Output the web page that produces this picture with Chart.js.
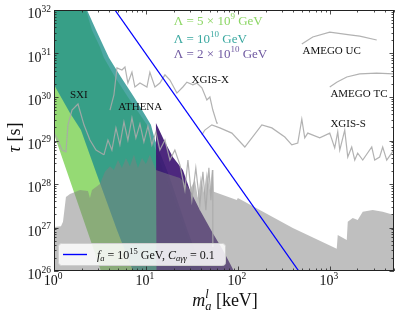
<!DOCTYPE html>
<html><head><meta charset="utf-8">
<script src="https://cdn.jsdelivr.net/npm/chart.js@4"></script>
<style>html,body{margin:0;padding:0;background:#fff}#c{display:block}</style>
</head><body>
<canvas id="c" width="399" height="317"></canvas>
<script>
// ---- data (log10 m [keV], log10 tau [s]) ----
const greenLogM   = [0, 0.348, 0.413, 0.5, 0.543, 0.663, 0.804, 0.924, 1.011, 1.065, 1.207, 1.424, 1.587, 0.511, 0.359, 0];
const greenLogTau = [32, 32, 31.54, 31.15, 30.90, 30.46, 30.0, 29.63, 29.36, 29.01, 28.21, 26.94, 26.0, 26.0, 26.94, 29.15];

const tealLogM   = [0, 0.359, 0.457, 0.543, 0.598, 0.728, 0.870, 0.978, 1.054, 1.098, 1.25, 1.45, 1.62, 0.859, 0.685, 0.467, 0.293, 0.174, 0];
const tealLogTau = [32, 32, 31.54, 31.15, 30.90, 30.46, 30.0, 29.63, 29.36, 29.01, 28.2, 26.94, 26.0, 26.0, 26.94, 28.21, 29.24, 29.63, 30.28];

const purpleLogM   = [1.109, 1.196, 1.293, 1.402, 1.478, 1.587, 1.728, 1.837, 1.913, 1.957, 1.115];
const purpleLogTau = [29.40, 29.01, 28.62, 28.32, 27.86, 27.40, 26.87, 26.48, 26.18, 26.0, 26.0];

const greyLogM   = [0, 0, 0.076, 0.098, 0.130, 0.174, 0.283, 0.370, 0.391, 0.413, 0.5, 0.554, 0.609, 0.652, 0.696, 0.739, 0.783, 0.826, 0.870, 0.913, 0.957, 1.0, 1.043, 1.109, 1.261, 1.37, 1.435, 1.478, 1.533, 1.565, 1.598, 1.630, 1.663, 1.696, 1.717, 1.728, 1.739, 1.989, 2.0, 2.598, 3.076, 3.087, 3.185, 3.196, 3.25, 3.304, 3.359, 3.467, 3.576, 3.699, 3.699];
const greyLogTau = [26, 27.01, 27.03, 27.13, 27.70, 27.77, 27.86, 27.84, 27.68, 27.86, 28.0, 28.28, 28.41, 28.32, 28.55, 28.37, 28.60, 28.41, 28.67, 28.37, 28.60, 28.46, 28.67, 28.32, 28.21, 28.14, 28.0, 27.86, 28.1, 27.68, 28.2, 27.8, 28.3, 27.86, 28.32, 28.32, 27.82, 27.63, 27.68, 26.99, 26.51, 26.83, 26.71, 27.13, 27.22, 27.17, 27.36, 27.40, 27.36, 27.29, 26];

const sxiLogM   = [0, 0.043, 0.087, 0.130, 0.152, 0.196, 0.261, 0.326, 0.391, 0.457, 0.543];
const sxiLogTau = [29.17, 29.01, 28.78, 28.74, 29.36, 29.70, 29.84, 29.36, 29.01, 28.78, 28.67];

const athenaLogM   = [0.543, 0.587, 0.630, 0.674, 0.717, 0.761, 0.804, 0.848, 0.891, 0.935, 0.978, 1.022, 1.065, 1.109, 1.152, 1.207, 1.261, 1.315, 1.370, 1.424, 1.457, 1.5, 1.543, 1.587, 1.620, 1.652, 1.685, 1.707, 1.728, 1.728];
const athenaLogTau = [28.67, 29.01, 28.78, 29.29, 28.90, 29.43, 29.01, 29.52, 29.06, 29.38, 28.97, 29.33, 28.90, 29.20, 28.78, 29.01, 28.55, 28.78, 28.44, 27.86, 28.55, 27.63, 28.37, 27.52, 28.28, 27.40, 28.37, 27.63, 28.32, 26.55];

const xgisxLogM   = [0.609, 0.652, 0.685, 0.739, 0.772, 0.804, 0.848, 0.880, 0.935, 1.011, 1.043, 1.098, 1.152, 1.207, 1.261, 1.337, 1.402, 1.446, 1.511, 1.554, 1.609, 1.663, 1.696, 1.728, 1.772, 1.783];
const xgisxLogTau = [29.70, 30.05, 30.67, 30.62, 30.69, 30.32, 30.57, 30.23, 30.32, 30.23, 30.57, 30.23, 30.32, 30.51, 30.39, 30.09, 30.23, 30.34, 30.28, 30.32, 30.21, 29.93, 30.0, 29.70, 29.40, 29.40];

const xgissLogM   = [1.609, 1.641, 1.717, 1.804, 1.935, 2.076, 2.261, 2.370, 2.511, 2.587, 2.652, 2.696, 2.728, 2.761, 2.891, 3.0, 3.054, 3.087, 3.109, 3.163, 3.196, 3.239, 3.272, 3.304, 3.359, 3.457, 3.489, 3.543, 3.576, 3.620, 3.696];
const xgissLogTau = [29.13, 29.24, 29.36, 29.29, 29.17, 28.85, 29.36, 29.29, 29.08, 28.90, 28.94, 29.49, 29.06, 29.17, 29.06, 29.17, 28.83, 29.20, 28.78, 29.24, 28.62, 28.85, 28.55, 28.71, 28.55, 28.85, 28.55, 28.62, 28.85, 28.55, 28.78];

const amegoUcLogM   = [2.696, 2.815, 3.0, 3.217, 3.326, 3.511];
const amegoUcLogTau = [31.22, 31.38, 31.49, 31.43, 31.40, 31.31];

const amegoTcLogM   = [3.0, 3.076, 3.185, 3.326, 3.511, 3.696];
const amegoTcLogTau = [30.23, 30.34, 30.46, 30.53, 30.55, 30.53];

const blueM   = [4.6, 460];     // keV
const blueTau = [1e32, 1e26];   // s

const xMin = 1, xMax = 5000, yMin = 1e26, yMax = 1e32;
const xMajor = [1, 10, 100, 1000];
const xMajorExp = ['0', '1', '2', '3'];
const yMajorExp = [26, 27, 28, 29, 30, 31, 32];

const labelText   = ['SXI', 'ATHENA', 'XGIS-X', 'AMEGO UC', 'AMEGO TC', 'XGIS-S'];
const labelLogM   = [0.174, 0.699, 1.497, 2.703, 3.007, 3.007];
const labelLogTau = [29.977, 29.70, 30.32, 30.99, 30.0, 29.31];

const lambdaMant  = ['5 × 10', '10', '2 × 10'];
const lambdaExp   = ['9', '10', '10'];
const lambdaColor = ['rgb(140,214,100)', 'rgb(58,168,160)', 'rgb(110,88,160)'];
const lambdaLogM  = 1.304;
const lambdaLogTau = [31.655, 31.241, 30.897];

// ---- helpers ----
const pts = (lm, lt) => lm.map((v, i) => ({x: Math.pow(10, v), y: Math.pow(10, lt[i])}));
const SERIF = '"Liberation Serif", "DejaVu Serif", serif';
const fontOf = p => (p.it ? 'italic ' : '') + p.s + 'px ' + SERIF;

function rich(ctx, parts, x, y, align) {
  let cx = 0, prevStart = 0;
  for (const p of parts) {
    ctx.font = fontOf(p);
    p._w = ctx.measureText(p.t).width;
    const start = p.back ? prevStart : cx;
    p._x = start;
    cx = Math.max(cx, start + p._w);
    prevStart = start;
  }
  const w = cx;
  const x0 = align === 'center' ? x - w / 2 : align === 'right' ? x - w : x;
  ctx.textBaseline = 'alphabetic';
  ctx.textAlign = 'left';
  for (const p of parts) {
    ctx.font = fontOf(p);
    ctx.fillText(p.t, x0 + p._x, y + (p.dy || 0));
  }
  return w;
}

function polyDS(data, color, order) {
  return {data, backgroundColor: color, borderColor: 'rgba(0,0,0,0)', borderWidth: 0,
    fill: 'shape', pointRadius: 0, tension: 0, order};
}
function lineDS(data, color, width, order) {
  return {data, borderColor: color, borderWidth: width, fill: false, pointRadius: 0, tension: 0, order};
}

const decor = {
  id: 'decor',
  afterDatasetsDraw(chart) {
    const {ctx, chartArea: a, scales: {x, y}} = chart;
    ctx.save();
    ctx.fillStyle = '#111';
    // curve labels
    labelText.forEach((t, i) => {
      rich(ctx, [{t, s: 11}], x.getPixelForValue(Math.pow(10, labelLogM[i])), y.getPixelForValue(Math.pow(10, labelLogTau[i])), 'left');
    });
    // Lambda labels
    lambdaMant.forEach((m, i) => {
      ctx.fillStyle = lambdaColor[i];
      rich(ctx, [{t: 'Λ = ' + m, s: 13}, {t: lambdaExp[i], s: 9, dy: -6}, {t: ' GeV', s: 13}],
        x.getPixelForValue(Math.pow(10, lambdaLogM)), y.getPixelForValue(Math.pow(10, lambdaLogTau[i])), 'left');
    });
    // legend box
    const lx = a.left + 4, ly = a.bottom - 28, lw = 167, lh = 22;
    ctx.beginPath();
    ctx.roundRect(lx + 0.5, ly + 0.5, lw, lh, 3);
    ctx.fillStyle = 'rgba(255,255,255,0.85)';
    ctx.fill();
    ctx.strokeStyle = '#d0d0d0';
    ctx.lineWidth = 1;
    ctx.stroke();
    ctx.beginPath();
    ctx.moveTo(lx + 5, ly + 11.5); ctx.lineTo(lx + 29, ly + 11.5);
    ctx.strokeStyle = '#0000ff'; ctx.lineWidth = 1.4; ctx.stroke();
    ctx.fillStyle = '#111';
    rich(ctx, [
      {t: 'f', s: 12, it: true}, {t: 'a', s: 8.5, it: true, dy: 2.5},
      {t: ' = 10', s: 12}, {t: '15', s: 8.5, dy: -5},
      {t: ' GeV, ', s: 12},
      {t: 'C', s: 12, it: true}, {t: 'aγγ', s: 8.5, it: true, dy: 2.5},
      {t: ' = 0.1', s: 12}
    ], lx + 39, ly + 15.5, 'left');
    // frame
    ctx.strokeStyle = '#222';
    ctx.lineWidth = 1;
    ctx.strokeRect(a.left + 0.5, a.top + 0.5, a.right - a.left - 1, a.bottom - a.top - 1);
    // ticks
    ctx.lineWidth = 0.8;
    ctx.strokeStyle = '#222';
    ctx.beginPath();
    for (let e = 0; e <= 3; e++) {
      for (let k = 1; k <= 9; k++) {
        const v = k * Math.pow(10, e);
        if (v > xMax) continue;
        const px = Math.round(x.getPixelForValue(v)) + 0.5;
        const L = k === 1 ? 4.5 : 2.5;
        ctx.moveTo(px, a.bottom); ctx.lineTo(px, a.bottom - L);
        ctx.moveTo(px, a.top); ctx.lineTo(px, a.top + L);
      }
    }
    for (let e = 26; e <= 32; e++) {
      for (let k = 1; k <= 9; k++) {
        const v = k * Math.pow(10, e);
        if (v > yMax) continue;
        const py = Math.round(y.getPixelForValue(v)) + 0.5;
        const L = k === 1 ? 4.5 : 2.5;
        ctx.moveTo(a.left, py); ctx.lineTo(a.left + L, py);
        ctx.moveTo(a.right, py); ctx.lineTo(a.right - L, py);
      }
    }
    ctx.stroke();
    // tick labels
    ctx.fillStyle = '#111';
    xMajor.forEach((v, i) => {
      rich(ctx, [{t: '10', s: 14}, {t: xMajorExp[i], s: 9.5, dy: -6}], x.getPixelForValue(v) - 1, a.bottom + 14, 'center');
    });
    yMajorExp.forEach(e => {
      const py = y.getPixelForValue(Math.pow(10, e));
      rich(ctx, [{t: '10', s: 14}, {t: String(e), s: 9.5, dy: -6.5}], a.left - 3, py + 8, 'right');
    });
    // axis titles
    rich(ctx, [
      {t: 'm', s: 18, it: true}, {t: 'a', s: 12.5, it: true, dy: 3.5}, {t: 'l', s: 12.5, it: true, dy: -8, back: true},
      {t: ' [keV]', s: 18}
    ], (a.left + a.right) / 2 + 1, 306, 'center');
    ctx.translate(20, (a.top + a.bottom) / 2 - 3);
    ctx.rotate(-Math.PI / 2);
    rich(ctx, [{t: 'τ', s: 18, it: true}, {t: ' [s]', s: 18}], 0, 0, 'center');
    ctx.restore();
  }
};

new Chart(document.getElementById('c'), {
  type: 'line',
  data: {
    datasets: [
      polyDS(pts(greenLogM, greenLogTau), 'rgba(122,209,81,0.8)', 9),
      polyDS(pts(tealLogM, tealLogTau), 'rgba(33,145,140,0.8)', 8),
      polyDS(pts(purpleLogM, purpleLogTau), 'rgba(62,22,115,0.92)', 7),
      polyDS(pts(greyLogM, greyLogTau), 'rgba(128,128,128,0.5)', 6),
      lineDS(pts(sxiLogM, sxiLogTau), 'rgba(170,170,170,0.9)', 1.2, 5),
      lineDS(pts(athenaLogM, athenaLogTau), 'rgba(170,170,170,0.9)', 1.2, 5),
      lineDS(pts(xgisxLogM, xgisxLogTau), 'rgba(170,170,170,0.9)', 1.2, 5),
      lineDS(pts(xgissLogM, xgissLogTau), 'rgba(170,170,170,0.9)', 1.2, 5),
      lineDS(pts(amegoUcLogM, amegoUcLogTau), 'rgba(170,170,170,0.9)', 1.2, 5),
      lineDS(pts(amegoTcLogM, amegoTcLogTau), 'rgba(170,170,170,0.9)', 1.2, 5),
      lineDS(blueM.map((m, i) => ({x: m, y: blueTau[i]})), '#0000ff', 1.3, 1)
    ]
  },
  options: {
    responsive: false,
    animation: false,
    devicePixelRatio: 1,
    layout: {padding: {left: 0, top: 10, right: 5, bottom: 0}},
    plugins: {legend: {display: false}, tooltip: {enabled: false}},
    scales: {
      x: {type: 'logarithmic', min: xMin, max: xMax, grid: {display: false}, border: {display: false},
          ticks: {display: false}, afterFit: s => { s.height = 46; }},
      y: {type: 'logarithmic', min: yMin, max: yMax, grid: {display: false}, border: {display: false},
          ticks: {display: false}, afterFit: s => { s.width = 54; }}
    }
  },
  plugins: [decor]
});
</script>
</body></html>
